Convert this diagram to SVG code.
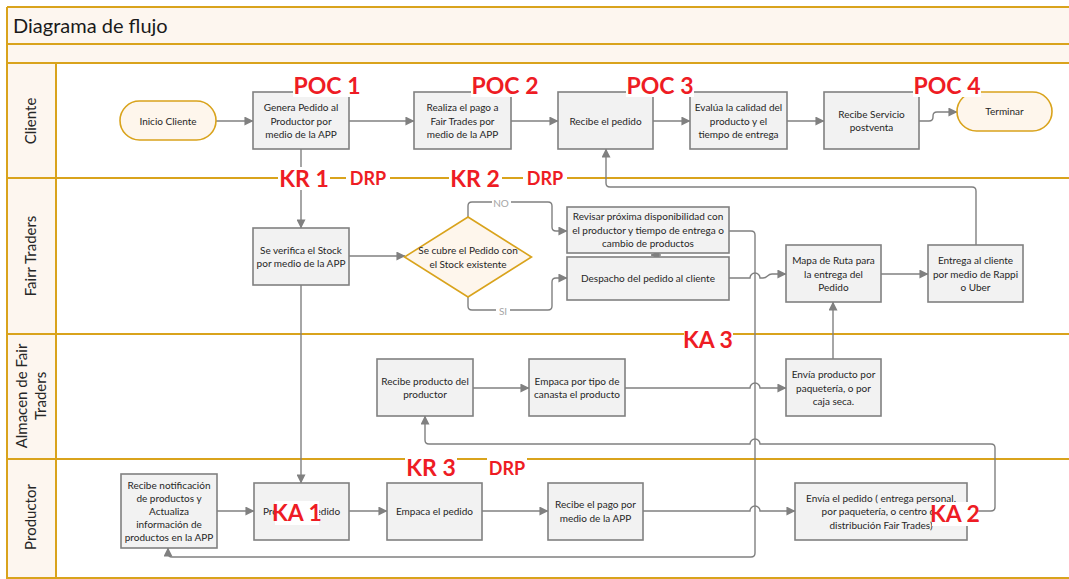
<svg xmlns="http://www.w3.org/2000/svg" width="1069" height="579" viewBox="0 0 1069 579">
  <defs>
    <marker id="arrow" viewBox="0 0 10 10" refX="9.5" refY="5" markerWidth="9" markerHeight="9" markerUnits="userSpaceOnUse" orient="auto">
      <path d="M0,0 L10,5 L0,10 z" fill="#808080"/>
    </marker>
    <style>
      .lane { fill: none; stroke: #D9A31C; stroke-width: 2; }
      .hdr { fill: #FDF6EF; }
      .box { fill: #F2F2F2; stroke: #808080; stroke-width: 1.6; }
      .term { fill: #FEF6EC; stroke: #D9A31C; stroke-width: 1.6; }
      .t { font-family: Lato, "Liberation Sans", sans-serif; font-size: 10px; fill: #262626; text-anchor: middle; }
      .lt { font-family: Lato, "Liberation Sans", sans-serif; font-size: 15px; fill: #262626; text-anchor: middle; }
      .title { font-family: Lato, "Liberation Sans", sans-serif; font-size: 20px; fill: #1a1a1a; }
      .c { fill: none; stroke: #808080; stroke-width: 1.4; }
      .ca { fill: none; stroke: #808080; stroke-width: 1.4; marker-end: url(#arrow); }
      .tag { font-family: Lato, "Liberation Sans", sans-serif; font-weight: bold; font-size: 23px; fill: #EE1C24; text-anchor: middle; }
      .tag-s { font-family: Lato, "Liberation Sans", sans-serif; font-weight: bold; font-size: 18px; fill: #EE1C24; text-anchor: middle; }
      .bg { fill: #FFFFFF; }
      .yn { font-family: Lato, "Liberation Sans", sans-serif; font-size: 10px; fill: #A6A6A6; text-anchor: middle; }
    </style>
  </defs>

  <!-- swimlane frame -->
  <g id="frame">
    <rect x="0" y="0" width="1069" height="579" fill="#FFFFFF"/>
    <rect class="hdr" x="7" y="7" width="1062" height="56"/>
    <rect class="hdr" x="7" y="63" width="49" height="515"/>
    <path class="lane" d="M7,7 H1069 M7,44 H1069 M7,63 H1069 M7,178 H1069 M7,334 H1069 M7,459 H1069 M7,578 H1069 M7,7 V579 M56,63 V579"/>
    <text class="title" x="13" y="33">Diagrama de flujo</text>
    <text class="lt" transform="translate(36,121) rotate(-90)">Cliente</text>
    <text class="lt" transform="translate(36,256) rotate(-90)">Fairr Traders</text>
    <text class="lt" transform="translate(27,396) rotate(-90)">Almacen de Fair</text>
    <text class="lt" transform="translate(46,396) rotate(-90)">Traders</text>
    <text class="lt" transform="translate(36,517) rotate(-90)">Productor</text>
  </g>

  <!-- connectors -->
  <g id="connectors">
    <path class="ca" d="M216,121 H253"/>
    <path class="ca" d="M349,121 H414"/>
    <path class="ca" d="M511,121 H558"/>
    <path class="ca" d="M653,121 H690"/>
    <path class="ca" d="M787,121 H824"/>
    <path class="ca" d="M919,121 H929 Q933,121 933,117 V116 Q933,112 937,112 H957"/>
    <path class="ca" d="M301,149 V228"/>
    <path class="ca" d="M301,285 V483"/>
    <path class="ca" d="M349,256 H405"/>
    <path class="ca" d="M468,217 V206 Q468,202 472,202 H548 Q552,202 552,206 V227 Q552,231 556,231 H567"/>
    <path class="ca" d="M468,297 V306 Q468,310 472,310 H548 Q552,310 552,306 V282 Q552,278 556,278 H567"/>
    <path class="ca" d="M661,255 H651"/>
    <path class="ca" d="M729,231 H751 Q755,231 755,235 V553 Q755,557 751,557 H172 Q168,557 168,553 V548"/>
    <path class="ca" d="M729,278 H750 A5,5 0 0 1 760,278 H763 C768,278 767,274 772,274 H786"/>
    <path class="ca" d="M881,274 H928"/>
    <path class="ca" d="M976,245 V191 Q976,187 972,187 H610 Q606,187 606,183 V149"/>
    <path class="ca" d="M473,388 H529"/>
    <path class="ca" d="M625,388 H750 A5,5 0 0 1 760,388 H786"/>
    <path class="ca" d="M833,359 V302"/>
    <path class="ca" d="M967,511 H991 Q995,511 995,507 V448 Q995,444 991,444 H760 A5,5 0 0 0 750,444 H429 Q425,444 425,440 V416"/>
    <path class="ca" d="M217,511 H254"/>
    <path class="ca" d="M349,511 H387"/>
    <path class="ca" d="M482,511 H548"/>
    <path class="ca" d="M643,511 H750 A5,5 0 0 1 760,511 H795"/>
    <rect class="bg" x="492" y="198" width="19" height="10"/>
    <text class="yn" x="501" y="207">NO</text>
    <rect class="bg" x="496" y="306" width="14" height="10"/>
    <text class="yn" x="503" y="315">SI</text>
  </g>

  <!-- Cliente lane -->
  <g id="inicio-cliente">
    <rect class="term" x="120" y="101" width="96" height="39" rx="19.5"/>
    <text class="t" x="168" y="124.5">Inicio Cliente</text>
  </g>
  <g id="genera-pedido">
    <rect class="box" x="253" y="92" width="96" height="57"/>
    <text class="t" x="301" y="111">Genera Pedido al</text>
    <text class="t" x="301" y="124.5">Productor por</text>
    <text class="t" x="301" y="138">medio de la APP</text>
  </g>
  <g id="realiza-pago">
    <rect class="box" x="414" y="92" width="97" height="57"/>
    <text class="t" x="462.5" y="111">Realiza el pago a</text>
    <text class="t" x="462.5" y="124.5">Fair Trades por</text>
    <text class="t" x="462.5" y="138">medio de la APP</text>
  </g>
  <g id="recibe-pedido">
    <rect class="box" x="558" y="92" width="95" height="57"/>
    <text class="t" x="605.5" y="124.5">Recibe el pedido</text>
  </g>
  <g id="evalua-calidad">
    <rect class="box" x="690" y="92" width="97" height="57"/>
    <text class="t" x="738.5" y="111">Evalúa la calidad del</text>
    <text class="t" x="738.5" y="124.5">producto y el</text>
    <text class="t" x="738.5" y="138">tiempo de entrega</text>
  </g>
  <g id="servicio-postventa">
    <rect class="box" x="824" y="92" width="95" height="57"/>
    <text class="t" x="871.5" y="117.5">Recibe Servicio</text>
    <text class="t" x="871.5" y="131">postventa</text>
  </g>
  <g id="terminar">
    <rect class="term" x="957" y="92" width="95" height="39" rx="19.5"/>
    <text class="t" x="1004.5" y="115">Terminar</text>
  </g>

  <!-- Fair Traders lane -->
  <g id="verifica-stock">
    <rect class="box" x="253" y="228" width="96" height="57"/>
    <text class="t" x="301" y="253.5">Se verifica el Stock</text>
    <text class="t" x="301" y="267">por medio de la APP</text>
  </g>
  <g id="cubre-pedido">
    <polygon class="term" points="468,217 531.5,257 468,297 404.5,257"/>
    <text class="t" x="468" y="254">Se cubre el Pedido con</text>
    <text class="t" x="468" y="267.5">el Stock existente</text>
  </g>
  <g id="revisar-disponibilidad">
    <rect class="box" x="567" y="207" width="162" height="46"/>
    <text class="t" x="648" y="220">Revisar próxima disponibilidad con</text>
    <text class="t" x="648" y="233.5">el productor y tiempo de entrega o</text>
    <text class="t" x="648" y="247">cambio de productos</text>
  </g>
  <g id="despacho-pedido">
    <rect class="box" x="567" y="257" width="162" height="43"/>
    <text class="t" x="648" y="282">Despacho del pedido al cliente</text>
  </g>
  <g id="mapa-ruta">
    <rect class="box" x="786" y="245" width="95" height="57"/>
    <text class="t" x="833.5" y="264">Mapa de Ruta para</text>
    <text class="t" x="833.5" y="277.5">la entrega del</text>
    <text class="t" x="833.5" y="291">Pedido</text>
  </g>
  <g id="entrega-cliente">
    <rect class="box" x="928" y="245" width="95" height="57"/>
    <text class="t" x="975.5" y="264">Entrega al cliente</text>
    <text class="t" x="975.5" y="277.5">por medio de Rappi</text>
    <text class="t" x="975.5" y="291">o Uber</text>
  </g>

  <!-- Almacen lane -->
  <g id="recibe-producto">
    <rect class="box" x="377" y="359" width="96" height="57"/>
    <text class="t" x="425" y="384.5">Recibe producto del</text>
    <text class="t" x="425" y="398">productor</text>
  </g>
  <g id="empaca-tipo">
    <rect class="box" x="529" y="359" width="96" height="57"/>
    <text class="t" x="577" y="384.5">Empaca por tipo de</text>
    <text class="t" x="577" y="398">canasta el producto</text>
  </g>
  <g id="envia-producto">
    <rect class="box" x="786" y="359" width="95" height="57"/>
    <text class="t" x="833.5" y="378">Envía producto por</text>
    <text class="t" x="833.5" y="391.5">paquetería,  o por</text>
    <text class="t" x="833.5" y="405">caja seca.</text>
  </g>

  <!-- Productor lane -->
  <g id="recibe-notificacion">
    <rect class="box" x="121" y="474" width="96" height="74"/>
    <text class="t" x="169" y="489">Recibe notificación</text>
    <text class="t" x="169" y="502">de productos y</text>
    <text class="t" x="169" y="515">Actualiza</text>
    <text class="t" x="169" y="528">información de</text>
    <text class="t" x="169" y="541">productos en la APP</text>
  </g>
  <g id="procesa-pedido">
    <rect class="box" x="254" y="483" width="95" height="57"/>
    <text class="t" x="301.5" y="515">Procesa el pedido</text>
  </g>
  <g id="empaca-pedido">
    <rect class="box" x="387" y="483" width="95" height="57"/>
    <text class="t" x="434.5" y="515">Empaca el pedido</text>
  </g>
  <g id="recibe-pago">
    <rect class="box" x="548" y="483" width="95" height="57"/>
    <text class="t" x="595.5" y="508">Recibe el pago por</text>
    <text class="t" x="595.5" y="521.5">medio de la APP</text>
  </g>
  <g id="envia-pedido">
    <rect class="box" x="795" y="483" width="172" height="57"/>
    <text class="t" x="881" y="501.5">Envía el pedido ( entrega personal,</text>
    <text class="t" x="881" y="515">por paquetería, o centro de</text>
    <text class="t" x="881" y="528.5">distribución Fair Trades)</text>
  </g>

  <!-- indicator tags -->
  <g id="tags">
    <rect class="bg" x="293" y="73" width="68" height="24"/>
    <text class="tag" x="327" y="94">POC 1</text>
    <rect class="bg" x="471" y="73" width="68" height="24"/>
    <text class="tag" x="505" y="94">POC 2</text>
    <rect class="bg" x="626" y="73" width="68" height="24"/>
    <text class="tag" x="660" y="94">POC 3</text>
    <rect class="bg" x="913" y="73" width="68" height="24"/>
    <text class="tag" x="947" y="94">POC 4</text>
    <rect class="bg" x="278" y="167" width="52" height="23"/>
    <text class="tag" x="304" y="187">KR 1</text>
    <rect class="bg" x="346" y="169" width="44" height="19"/>
    <text class="tag-s" x="368" y="185">DRP</text>
    <rect class="bg" x="449" y="167" width="53" height="23"/>
    <text class="tag" x="475" y="187">KR 2</text>
    <rect class="bg" x="523" y="169" width="44" height="19"/>
    <text class="tag-s" x="545" y="185">DRP</text>
    <rect class="bg" x="684" y="329" width="49" height="22"/>
    <text class="tag" x="708" y="348">KA 3</text>
    <rect class="bg" x="405" y="455" width="52" height="24"/>
    <text class="tag" x="431" y="476">KR 3</text>
    <rect class="bg" x="487" y="456" width="40" height="21"/>
    <text class="tag-s" x="507" y="475">DRP</text>
    <rect class="bg" x="275" y="501" width="44" height="24"/>
    <text class="tag" x="297" y="521">KA 1</text>
    <rect class="bg" x="932" y="502" width="45" height="24"/>
    <text class="tag" x="955" y="522">KA 2</text>
  </g>
</svg>
